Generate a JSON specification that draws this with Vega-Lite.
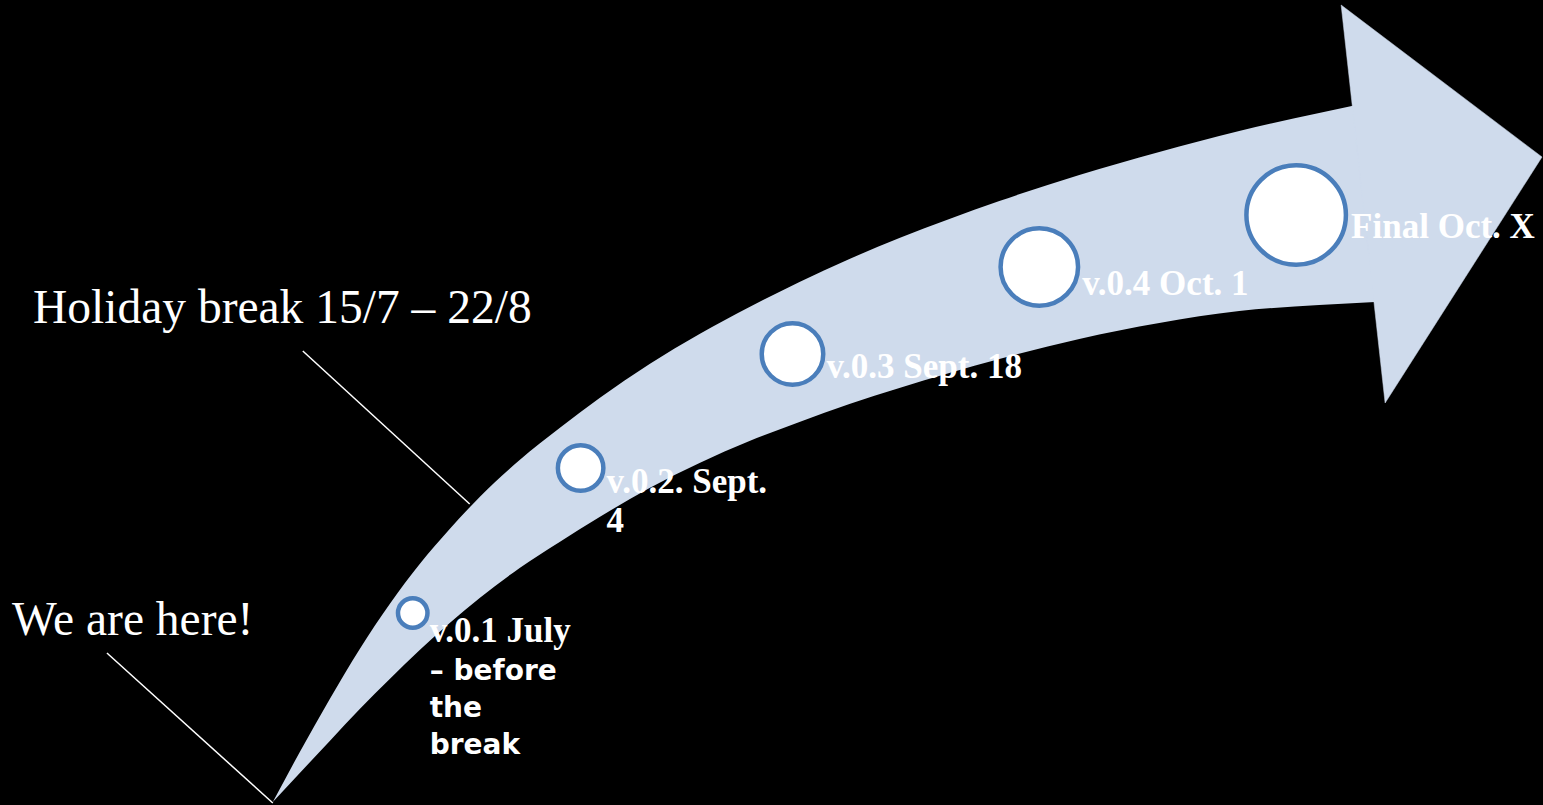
{
  "$schema": "https://vega.github.io/schema/vega-lite/v6.json",
  "autosize": {"type": "fit", "contains": "padding"},
  "width": 1543,
  "height": 805,
  "padding": 0,
  "background": "#000000",
  "config": {"view": {"stroke": null}},
  "datasets": {
    "body": [
      {"x": 273, "upper": 802, "lower": 802},
      {"x": 300, "upper": 752, "lower": 773},
      {"x": 330, "upper": 699, "lower": 741},
      {"x": 360, "upper": 649, "lower": 709},
      {"x": 390, "upper": 604, "lower": 679},
      {"x": 420, "upper": 564, "lower": 650},
      {"x": 450, "upper": 529, "lower": 623},
      {"x": 480, "upper": 497, "lower": 598},
      {"x": 520, "upper": 460, "lower": 568},
      {"x": 560, "upper": 428, "lower": 542},
      {"x": 600, "upper": 398, "lower": 517},
      {"x": 650, "upper": 364, "lower": 488},
      {"x": 700, "upper": 334, "lower": 463},
      {"x": 750, "upper": 307, "lower": 441},
      {"x": 800, "upper": 282, "lower": 422},
      {"x": 850, "upper": 259, "lower": 404},
      {"x": 900, "upper": 238, "lower": 388},
      {"x": 950, "upper": 219, "lower": 373},
      {"x": 1000, "upper": 201, "lower": 359},
      {"x": 1080, "upper": 175, "lower": 339},
      {"x": 1160, "upper": 152, "lower": 323},
      {"x": 1240, "upper": 131, "lower": 311},
      {"x": 1320, "upper": 113, "lower": 305},
      {"x": 1376, "upper": 101, "lower": 302}
    ],
    "head": [
      {"i": 0, "x": 1342, "y": 5},
      {"i": 1, "x": 1543, "y": 157},
      {"i": 2, "x": 1386, "y": 403}
    ],
    "milestones": [
      {"milestone": "v.0.1", "rank": 1, "x": 413, "y": 613},
      {"milestone": "v.0.2", "rank": 2, "x": 581, "y": 468},
      {"milestone": "v.0.3", "rank": 3, "x": 793, "y": 354},
      {"milestone": "v.0.4", "rank": 4, "x": 1040, "y": 267},
      {"milestone": "Final", "rank": 5, "x": 1297, "y": 215}
    ],
    "serifLabels": [
      {"label": "v.0.1 July", "x": 430, "y": 642},
      {"label": "v.0.2. Sept.\n4", "x": 607, "y": 493},
      {"label": "v.0.3 Sept. 18", "x": 827, "y": 378},
      {"label": "v.0.4 Oct. 1", "x": 1083, "y": 295},
      {"label": "Final Oct. X", "x": 1352, "y": 238}
    ],
    "sansLabels": [
      {"label": "– before\nthe\nbreak", "x": 430, "y": 680}
    ],
    "notes": [
      {"label": "Holiday break 15/7 – 22/8", "x": 33, "y": 323},
      {"label": "We are here!", "x": 12, "y": 635}
    ],
    "leaders": [
      {"x": 303, "y": 351, "x2": 470, "y2": 504},
      {"x": 107, "y": 653, "x2": 273, "y2": 803}
    ]
  },
  "layer": [
    {
      "data": {"name": "body"},
      "mark": {"type": "area", "interpolate": "monotone", "color": "#cfdbec", "opacity": 1},
      "encoding": {
        "x": {"field": "x", "type": "quantitative", "scale": {"domain": [0, 1543], "nice": false, "zero": false}, "axis": null},
        "y": {"field": "upper", "type": "quantitative", "scale": {"domain": [0, 805], "reverse": true, "nice": false, "zero": false}, "axis": null},
        "y2": {"field": "lower"}
      }
    },
    {
      "data": {"name": "head"},
      "mark": {"type": "line", "interpolate": "linear-closed", "fill": "#cfdbec", "stroke": "#cfdbec", "strokeWidth": 0.5, "filled": true},
      "encoding": {
        "x": {"field": "x", "type": "quantitative"},
        "y": {"field": "y", "type": "quantitative"},
        "order": {"field": "i", "type": "quantitative"}
      }
    },
    {
      "data": {"name": "leaders"},
      "mark": {"type": "rule", "color": "#ffffff", "strokeWidth": 1.5},
      "encoding": {
        "x": {"field": "x", "type": "quantitative"},
        "y": {"field": "y", "type": "quantitative"},
        "x2": {"field": "x2"},
        "y2": {"field": "y2"}
      }
    },
    {
      "data": {"name": "milestones"},
      "mark": {"type": "point", "shape": "circle", "filled": false, "fill": "#ffffff", "fillOpacity": 1, "stroke": "#4a7ebb", "strokeWidth": 4.5, "opacity": 1},
      "encoding": {
        "x": {"field": "x", "type": "quantitative"},
        "y": {"field": "y", "type": "quantitative"},
        "size": {"field": "rank", "type": "quantitative", "scale": {"domain": [1, 2, 3, 4, 5], "range": [870, 2070, 3782, 6006, 9900], "zero": false, "nice": false}, "legend": null}
      }
    },
    {
      "data": {"name": "serifLabels"},
      "mark": {"type": "text", "align": "left", "baseline": "alphabetic", "font": "Liberation Serif", "fontWeight": "bold", "fontSize": 35, "color": "#ffffff", "lineBreak": "\n", "lineHeight": 39},
      "encoding": {
        "x": {"field": "x", "type": "quantitative"},
        "y": {"field": "y", "type": "quantitative"},
        "text": {"field": "label"}
      }
    },
    {
      "data": {"name": "sansLabels"},
      "mark": {"type": "text", "align": "left", "baseline": "alphabetic", "font": "DejaVu Sans", "fontWeight": "bold", "fontSize": 28, "color": "#ffffff", "lineBreak": "\n", "lineHeight": 37},
      "encoding": {
        "x": {"field": "x", "type": "quantitative"},
        "y": {"field": "y", "type": "quantitative"},
        "text": {"field": "label"}
      }
    },
    {
      "data": {"name": "notes"},
      "mark": {"type": "text", "align": "left", "baseline": "alphabetic", "font": "Liberation Serif", "fontSize": 47.5, "color": "#ffffff"},
      "encoding": {
        "x": {"field": "x", "type": "quantitative"},
        "y": {"field": "y", "type": "quantitative"},
        "text": {"field": "label"}
      }
    }
  ]
}
